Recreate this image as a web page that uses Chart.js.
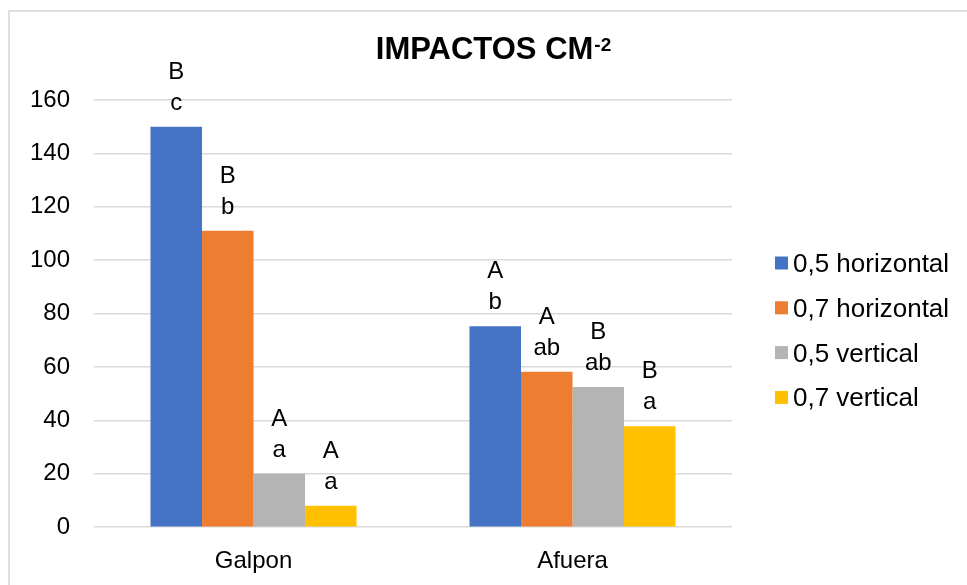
<!DOCTYPE html>
<html lang="es">
<head>
<meta charset="UTF-8">
<title>Impactos cm-2</title>
<script src="https://cdn.jsdelivr.net/npm/chart.js@4.4.0/dist/chart.umd.min.js"></script>
<style>
    html, body {
        margin: 0;
        padding: 0;
        background: #ffffff;
        overflow: hidden;
    }
    #marco {
        position: absolute;
        left: 8px;
        top: 10px;
        width: 1000px;
        height: 700px;
        border-left: 2px solid #dedede;
        border-top: 2px solid #dedede;
    }
    #contenedor {
        position: absolute;
        left: 0;
        top: 0;
        width: 967px;
        height: 600px;
    }
</style>
</head>
<body>
<div id="marco"></div>
<div id="contenedor">
    <canvas id="grafico" width="967" height="600"></canvas>
</div>
<script>
// Datos
const categorias = ['Galpon', 'Afuera'];
const series = ['0,5 horizontal', '0,7 horizontal', '0,5 vertical', '0,7 vertical'];
const colores = ['#4472C4', '#ED7D31', '#B4B4B4', '#FFC000'];

const horizontal05 = [150, 75.3];
const horizontal07 = [111, 58.2];
const vertical05 = [20, 52.5];
const vertical07 = [8, 37.8];

// letras de significancia: mayúscula (línea de arriba) y minúscula (línea de abajo)
const letrasMayus = [['B', 'A'], ['B', 'A'], ['A', 'B'], ['A', 'B']];
const letrasMinus = [['c', 'b'], ['b', 'ab'], ['a', 'ab'], ['a', 'a']];

const ticksY = [0, 20, 40, 60, 80, 100, 120, 140, 160];

const fuente = "'Liberation Sans', Arial, sans-serif";
const valores = [horizontal05, horizontal07, vertical05, vertical07];

// Título con superíndice
const tituloPlugin = {
    id: 'titulo',
    afterDraw(chart) {
        const ctx = chart.ctx;
        ctx.save();
        ctx.fillStyle = '#000';
        ctx.textBaseline = 'alphabetic';
        ctx.font = `bold 31px ${fuente}`;
        const principal = 'IMPACTOS CM';
        const anchoPrincipal = ctx.measureText(principal).width;
        ctx.font = `bold 19px ${fuente}`;
        const anchoSup = ctx.measureText('-2').width;
        const x0 = 493 - (anchoPrincipal + anchoSup) / 2;
        ctx.font = `bold 31px ${fuente}`;
        ctx.fillText(principal, x0, 59);
        ctx.font = `bold 19px ${fuente}`;
        ctx.fillText('-2', x0 + anchoPrincipal + 1, 51);
        ctx.restore();
    }
};

// Letras encima de cada barra
const letrasPlugin = {
    id: 'letras',
    afterDatasetsDraw(chart) {
        const ctx = chart.ctx;
        ctx.save();
        ctx.fillStyle = '#000';
        ctx.font = `24px ${fuente}`;
        ctx.textAlign = 'center';
        ctx.textBaseline = 'alphabetic';
        chart.data.datasets.forEach((ds, i) => {
            const meta = chart.getDatasetMeta(i);
            meta.data.forEach((barra, j) => {
                const tope = chart.scales.y.getPixelForValue(ds.data[j]);
                ctx.fillText(letrasMinus[i][j], barra.x, tope - 17);
                ctx.fillText(letrasMayus[i][j], barra.x, tope - 48);
            });
        });
        ctx.restore();
    }
};

// Leyenda a la derecha
const leyendaPlugin = {
    id: 'leyenda',
    afterDraw(chart) {
        const ctx = chart.ctx;
        ctx.save();
        ctx.font = `26px ${fuente}`;
        ctx.textBaseline = 'alphabetic';
        ctx.textAlign = 'left';
        chart.data.datasets.forEach((ds, i) => {
            const centro = 263 + i * 44.8;
            ctx.fillStyle = ds.backgroundColor;
            ctx.fillRect(775, centro - 6.5, 13, 13);
            ctx.fillStyle = '#000';
            ctx.fillText(ds.label, 793, centro + 9);
        });
        ctx.restore();
    }
};

const ctx = document.getElementById('grafico').getContext('2d');
new Chart(ctx, {
    type: 'bar',
    data: {
        labels: categorias,
        datasets: series.map((nombre, i) => ({
            label: nombre,
            data: valores[i],
            backgroundColor: colores[i],
            borderWidth: 0,
            categoryPercentage: 0.646,
            barPercentage: 1
        }))
    },
    options: {
        responsive: false,
        animation: false,
        layout: {
            padding: { left: 6, right: 235, top: 100, bottom: 4 }
        },
        plugins: {
            legend: { display: false },
            title: { display: false },
            tooltip: { enabled: false }
        },
        scales: {
            x: {
                grid: { display: false, drawTicks: false },
                border: { display: false },
                ticks: {
                    color: '#000',
                    padding: 20,
                    font: { family: fuente, size: 24 }
                }
            },
            y: {
                min: 0,
                max: 160,
                afterBuildTicks(scale) {
                    scale.ticks = ticksY.map(v => ({ value: v }));
                },
                grid: { color: '#d9d9d9', lineWidth: 1.5, drawTicks: false },
                border: { display: false },
                ticks: {
                    color: '#000',
                    padding: 24,
                    font: { family: fuente, size: 24 }
                }
            }
        }
    },
    plugins: [tituloPlugin, letrasPlugin, leyendaPlugin]
});
</script>
</body>
</html>
